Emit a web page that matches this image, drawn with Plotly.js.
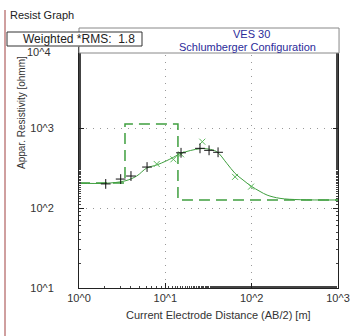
<!DOCTYPE html>
<html><head><meta charset="utf-8">
<script src="https://cdn.plot.ly/plotly-3.0.1.min.js"></script>
<style>html,body{margin:0;padding:0;background:#fff;}#plot{width:351px;height:336px;}</style>
</head><body><div id="plot"></div>
<script>
// Field data (AB/2 [m], apparent resistivity [ohmm])
const fieldAB = [2.04, 3.04, 4.0, 6.14, 15.2, 25.2, 32.1, 40.8];
const fieldRho = [200, 230, 251, 325, 490, 557, 526, 497];
// Calculated points
const calcAB = [7.95, 12.4, 15.2, 26.8, 64.2, 98.4];
const calcRho = [355, 406, 469, 674, 245, 185];
// Fitted curve
const curveAB = [1, 2.04, 3.41, 4.66, 6.09, 7.95, 10.2, 12.4, 15.2, 25.2, 31.3, 39.4, 51.5, 64.2, 79.4, 98.4, 125, 151, 213, 364, 1000];
const curveRho = [204, 204, 218, 251, 316, 345, 387, 430, 483, 551, 546, 506, 362, 271, 224, 188, 161, 145, 132, 127, 126];
// Layered model: resistivities and layer bottoms
const layerRho = [205, 1122, 126];
const layerDepth = [3.41, 14.0];
const xTickVals = [1, 10, 100, 1000];
const xTickText = ['10^0', '10^1', '10^2', '10^3'];
const yTickVals = [10, 100, 1000];
const yTickText = ['10^1', '10^2', '10^3'];
const yTopLabel = '10^4';

// Build step model
const modelX = [1, layerDepth[0], layerDepth[0], layerDepth[1], layerDepth[1], 1000];
const modelY = [layerRho[0], layerRho[0], layerRho[1], layerRho[1], layerRho[2], layerRho[2]];

const green = '#3f9f3f';
const traces = [
  {x: modelX, y: modelY, mode: 'lines', line: {color: green, width: 1.5, dash: '11px,6px'}, hoverinfo: 'skip'},
  {x: curveAB, y: curveRho, mode: 'lines', line: {color: green, width: 1, shape: 'spline'}},
  {x: calcAB, y: calcRho, mode: 'markers', marker: {symbol: 'x-thin', size: 6, line: {color: '#5cb85c', width: 1}}},
  {x: fieldAB, y: fieldRho, mode: 'markers', marker: {symbol: 'cross-thin', size: 7, line: {color: '#111', width: 1}}}
];

const axisCommon = {
  type: 'log', showline: true, linecolor: '#222', linewidth: 1, mirror: 'ticks',
  ticks: 'inside', ticklen: 5, tickcolor: '#222',
  showgrid: true, gridcolor: '#999', griddash: '1px,6px', gridwidth: 1,
  zeroline: false, tickfont: {family: 'Liberation Sans, Arial', size: 11, color: '#333'},
  minor: {ticks: 'inside', ticklen: 2, tickcolor: '#444', showgrid: false}
};

const font = {family: 'Liberation Sans, Arial', size: 11, color: '#222'};
const layout = {
  width: 351, height: 336,
  margin: {l: 79, r: 13, t: 48, b: 48},
  paper_bgcolor: '#fff', plot_bgcolor: '#fff',
  showlegend: false,
  xaxis: Object.assign({}, axisCommon, {range: [0, 3], tickvals: xTickVals, ticktext: xTickText}),
  yaxis: Object.assign({}, axisCommon, {range: [1, 4], tickvals: yTickVals, ticktext: yTickText, ticklabelstandoff: 22}),
  shapes: [
    {type: 'rect', xref: 'paper', yref: 'paper', x0: 0, x1: 1.004, y0: 1 - 5/240, y1: 1 + 20/240, fillcolor: '#fff', line: {color: '#888', width: 1}, layer: 'above'},
    {type: 'rect', xref: 'paper', yref: 'paper', x0: -72/259, x1: 63/259, y0: 1 + 2/240, y1: 1 + 16/240, fillcolor: '#fff', line: {color: '#333', width: 1}, layer: 'above'},
    {type: 'line', xref: 'paper', yref: 'paper', x0: -74/259, x1: -74/259, y0: -48/240, y1: 1 + 38/240, line: {color: '#a04040', width: 1}}
  ],
  annotations: [
    {text: yTopLabel, xref: 'paper', yref: 'paper', x: -26/259, y: 1 - 4/240, xanchor: 'right', yanchor: 'middle', showarrow: false, font: {family: 'Liberation Sans, Arial', size: 11, color: '#333'}},
    {text: 'Resist Graph', xref: 'paper', yref: 'paper', x: -71/259, y: 1 + 33/240, xanchor: 'left', yanchor: 'middle', showarrow: false, font: font},
    {text: 'Weighted *RMS:  1.8', xref: 'paper', yref: 'paper', x: 58/259, y: 1 + 9/240, xanchor: 'right', yanchor: 'middle', showarrow: false, font: {family: 'Liberation Sans, Arial', size: 12, color: '#222'}},
    {text: 'VES 30', xref: 'paper', yref: 'paper', x: 172/259, y: 1 + 14/240, xanchor: 'center', yanchor: 'middle', showarrow: false, font: {family: 'Liberation Sans, Arial', size: 11, color: '#2b2b9a'}},
    {text: 'Schlumberger Configuration', xref: 'paper', yref: 'paper', x: 168/259, y: 1 + 1/240, xanchor: 'center', yanchor: 'middle', showarrow: false, font: {family: 'Liberation Sans, Arial', size: 11, color: '#2b2b9a'}},
    {text: 'Appar. Resistivity [ohmm]', xref: 'paper', yref: 'paper', x: -58/259, y: (288 - 113)/240, xanchor: 'center', yanchor: 'middle', textangle: -90, showarrow: false, font: {family: 'Liberation Sans, Arial', size: 10, color: '#333'}},
    {text: 'Current Electrode Distance (AB/2) [m]', xref: 'paper', yref: 'paper', x: (218 - 79)/259, y: -(315 - 288)/240, xanchor: 'center', yanchor: 'middle', showarrow: false, font: {family: 'Liberation Sans, Arial', size: 11, color: '#333'}}
  ]
};

Plotly.newPlot('plot', traces, layout, {staticPlot: true, displayModeBar: false});
</script>
</body></html>
